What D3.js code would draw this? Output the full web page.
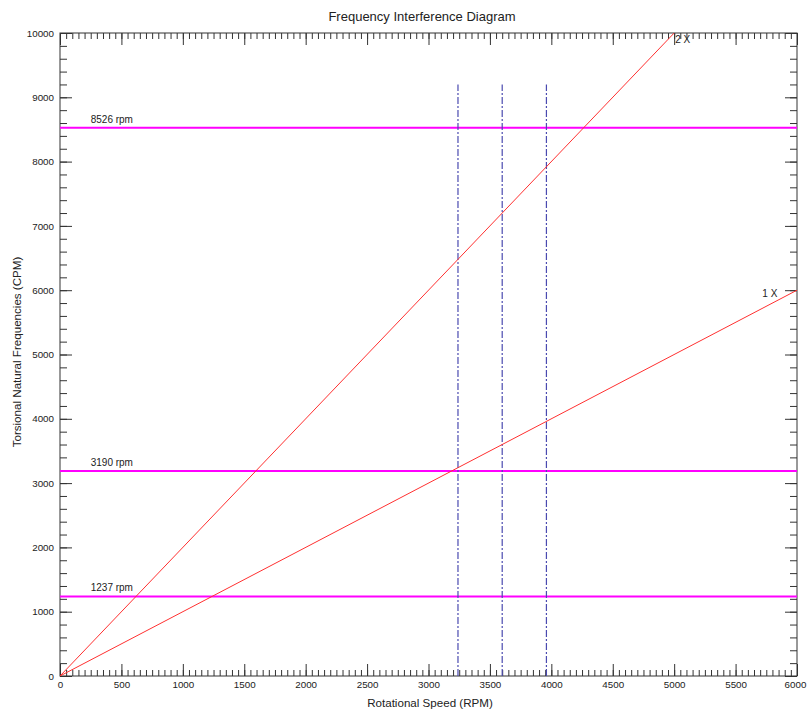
<!DOCTYPE html>
<html>
<head>
<meta charset="utf-8">
<script src="https://cdn.jsdelivr.net/npm/d3@7"></script>
<style>
  body { margin: 0; background: #fff; }
  svg text { font-family: "Liberation Sans", Arial, sans-serif; fill: #222; }
</style>
</head>
<body>
<div id="chart"></div>
<script>
// order lines: multiples of running speed
var orderNames = ["1 X", "2 X"];
var orderFactors = [1, 2];
// torsional natural frequencies (CPM)
var naturalFreqs = [8526, 3190, 1237];
var freqLabels = ["8526 rpm", "3190 rpm", "1237 rpm"];
// operating speed band (RPM)
var speedMarks = [3240, 3600, 3960];
var speedMarkTop = 9200;

var xMax = 6000, yMax = 10000;

var width = 807, height = 711;
var margin = {top: 33, right: 10, bottom: 35, left: 60};
var w = width - margin.left - margin.right;
var h = height - margin.top - margin.bottom;

var svg = d3.select("#chart").append("svg")
    .attr("width", width)
    .attr("height", height);

svg.append("text")
    .attr("x", 422)
    .attr("y", 21)
    .attr("text-anchor", "middle")
    .style("font-size", "13px")
    .text("Frequency Interference Diagram");

var g = svg.append("g")
    .attr("transform", "translate(" + margin.left + "," + margin.top + ")");

var x = d3.scaleLinear().domain([0, xMax]).range([0, w]);
var y = d3.scaleLinear().domain([0, yMax]).range([h, 0]);

// minor ticks first, then major with labels
function axisStyle(sel) {
    sel.select(".domain").remove();
    sel.selectAll("line").attr("stroke", "#333");
    sel.selectAll("text").style("font-size", "9.8px");
}

g.append("g").attr("transform", "translate(0," + h + ")")
    .call(d3.axisBottom(x).tickValues(d3.range(0, xMax + 1, 50)).tickSize(-6).tickFormat(""))
    .call(axisStyle);
var xLab = g.append("g").attr("transform", "translate(0," + h + ")")
    .call(d3.axisBottom(x).tickValues(d3.range(0, xMax + 1, 500)).tickSize(-12).tickPadding(5).tickFormat(d3.format("d")))
    .call(axisStyle);
// keep the last label inside the picture
xLab.selectAll("text").filter(function(d) { return d === xMax; }).attr("dx", "-2");

g.append("g")
    .call(d3.axisTop(x).tickValues(d3.range(0, xMax + 1, 50)).tickSize(-6).tickFormat(""))
    .call(axisStyle);
g.append("g")
    .call(d3.axisTop(x).tickValues(d3.range(0, xMax + 1, 500)).tickSize(-12).tickFormat(""))
    .call(axisStyle);

g.append("g")
    .call(d3.axisLeft(y).tickValues(d3.range(0, yMax + 1, 200)).tickSize(-7).tickFormat(""))
    .call(axisStyle);
g.append("g")
    .call(d3.axisLeft(y).tickValues(d3.range(0, yMax + 1, 1000)).tickSize(-12).tickPadding(6).tickFormat(d3.format("d")))
    .call(axisStyle);
g.append("g").attr("transform", "translate(" + w + ",0)")
    .call(d3.axisRight(y).tickValues(d3.range(0, yMax + 1, 200)).tickSize(-7).tickFormat(""))
    .call(axisStyle);
g.append("g").attr("transform", "translate(" + w + ",0)")
    .call(d3.axisRight(y).tickValues(d3.range(0, yMax + 1, 1000)).tickSize(-12).tickFormat(""))
    .call(axisStyle);

// frame
g.append("rect")
    .attr("width", w).attr("height", h)
    .attr("fill", "none").attr("stroke", "#333").attr("stroke-width", 1);

g.append("clipPath").attr("id", "clip")
    .append("rect").attr("width", w).attr("height", h);

var plot = g.append("g").attr("clip-path", "url(#clip)");

// natural frequency lines
plot.selectAll(".nf")
    .data(naturalFreqs)
    .enter().append("line")
    .attr("x1", 0).attr("x2", w)
    .attr("y1", function(d) { return y(d); })
    .attr("y2", function(d) { return y(d); })
    .attr("stroke", "#ff00ff")
    .attr("stroke-width", 2);

g.selectAll(".nfl")
    .data(naturalFreqs)
    .enter().append("text")
    .attr("x", x(250))
    .attr("y", function(d) { return y(d) - 5; })
    .style("font-size", "10px")
    .text(function(d, i) { return freqLabels[i]; });

// speed band lines
plot.selectAll(".sp")
    .data(speedMarks)
    .enter().append("line")
    .attr("x1", function(d) { return x(d); })
    .attr("x2", function(d) { return x(d); })
    .attr("y1", y(0))
    .attr("y2", y(speedMarkTop))
    .attr("stroke", "#4a4ab0")
    .attr("stroke-width", 1.2)
    .attr("stroke-dasharray", "7,2,2,2");

// order lines
var line = d3.line()
    .x(function(p) { return x(p[0]); })
    .y(function(p) { return y(p[1]); });

plot.selectAll(".ord")
    .data(orderFactors)
    .enter().append("path")
    .attr("d", function(f) { return line([[0, 0], [xMax, xMax * f]]); })
    .attr("fill", "none")
    .attr("stroke", "#ff3030")
    .attr("stroke-width", 1);

// order labels
g.append("text")
    .attr("x", x(yMax / 2) + 1)
    .attr("y", y(yMax) + 10)
    .style("font-size", "10px")
    .text(orderNames[1]);
g.append("text")
    .attr("x", x(5840))
    .attr("y", y(5900))
    .attr("text-anchor", "end")
    .style("font-size", "10px")
    .text(orderNames[0]);

// axis titles
svg.append("text")
    .attr("x", 430)
    .attr("y", 707)
    .attr("text-anchor", "middle")
    .style("font-size", "11.6px")
    .text("Rotational Speed (RPM)");

svg.append("text")
    .attr("transform", "translate(21," + 352 + ") rotate(-90)")
    .attr("text-anchor", "middle")
    .style("font-size", "11.6px")
    .text("Torsional Natural Frequencies (CPM)");
</script>
</body>
</html>
